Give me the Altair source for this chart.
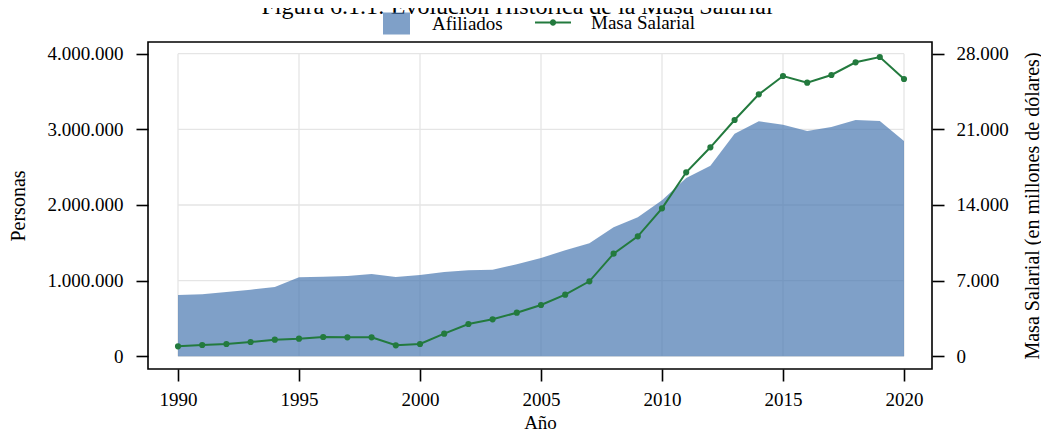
import altair as alt
import pandas as pd

# ---------------- data ----------------
years = [1990, 1991, 1992, 1993, 1994, 1995, 1996, 1997, 1998, 1999,
         2000, 2001, 2002, 2003, 2004, 2005, 2006, 2007, 2008, 2009,
         2010, 2011, 2012, 2013, 2014, 2015, 2016, 2017, 2018, 2019, 2020]
afiliados = [810000, 819000, 850000, 880000, 916000, 1044000, 1052000, 1061000,
             1088000, 1048000, 1075000, 1114000, 1137000, 1145000, 1216000,
             1300000, 1401000, 1494000, 1705000, 1837000, 2062000, 2357000,
             2520000, 2943000, 3106000, 3062000, 2978000, 3031000, 3124000,
             3110000, 2846000]
masa_salarial = [925, 1045, 1138, 1323, 1536, 1629, 1786, 1758, 1758, 1018,
                 1138, 2091, 2989, 3424, 4034, 4747, 5700, 6940, 9494, 11104,
                 13694, 17025, 19338, 21865, 24242, 25936, 25316, 26029, 27203,
                 27694, 25658]
x_ticks = [1990, 1995, 2000, 2005, 2010, 2015, 2020]
left_ticks = [0, 1000000, 2000000, 3000000, 4000000]
right_ticks = [0, 7000, 14000, 21000, 28000]
TITLE = "Figura 6.1.1: Evolución Histórica de la Masa Salarial"

FONT = "Liberation Serif"
AREA_COLOR = "#4877B0"
LINE_COLOR = "#237A3E"
GRID_COLOR = "#E5E5E5"

df = pd.DataFrame({"anio": years, "afiliados": afiliados, "masa": masa_salarial,
                   "s1": "Afiliados", "s2": "Masa Salarial"})
vgrid = pd.DataFrame({"anio": x_ticks, "lo": left_ticks[0], "hi": left_ticks[-1]})
hgrid = pd.DataFrame({"v": left_ticks, "x0": x_ticks[0], "x1": x_ticks[-1]})

x_scale = alt.Scale(domain=[1988.760, 2021.157], nice=False, zero=False)
yl_scale = alt.Scale(domain=[-167880, 4154660], nice=False, zero=False)
yr_scale = alt.Scale(domain=[-1175.2, 29082.6], nice=False, zero=False)

dots = "join(split(format(datum.value, ','), ','), '.')"

x_axis = alt.Axis(values=x_ticks, format="d", title="Año", titleY=59,
                  titleFontSize=19, titleBaseline="alphabetic", labelPadding=9,
                  grid=False, domain=False, orient="bottom")
# top axis of the second layer only carries the figure title
x_axis_top = alt.Axis(orient="top", labels=False, ticks=False, domain=False,
                      grid=False, title=TITLE, titleX=368.5, titleY=-29,
                      titleAlign="center", titleBaseline="alphabetic",
                      titleFontSize=24)
yl_axis = alt.Axis(values=left_ticks, labelExpr=dots, title="Personas",
                   orient="left", titleAngle=270, titleX=-130, titleY=163.5,
                   titleAlign="center", titleBaseline="middle", labelPadding=13,
                   grid=False, domain=False)
yr_axis = alt.Axis(values=right_ticks, labelExpr=dots,
                   title="Masa Salarial (en millones de dólares)",
                   orient="right", titleAngle=270, titleX=100, titleY=163.5,
                   titleAlign="center", titleBaseline="middle", labelPadding=12,
                   grid=False, domain=False)

vg = alt.Chart(vgrid).mark_rule(color=GRID_COLOR, strokeWidth=1.3).encode(
    x=alt.X("anio:Q", scale=x_scale, axis=x_axis),
    y=alt.Y("lo:Q", scale=yl_scale, axis=yl_axis),
    y2="hi:Q",
)
hg = alt.Chart(hgrid).mark_rule(color=GRID_COLOR, strokeWidth=1.3).encode(
    x=alt.X("x0:Q", scale=x_scale, axis=x_axis),
    x2="x1:Q",
    y=alt.Y("v:Q", scale=yl_scale, axis=yl_axis),
)
area = alt.Chart(df).mark_area(opacity=0.7).encode(
    x=alt.X("anio:Q", scale=x_scale, axis=x_axis),
    y=alt.Y("afiliados:Q", scale=yl_scale, axis=yl_axis),
    y2=alt.datum(0),
    fill=alt.Fill("s1:N", scale=alt.Scale(domain=["Afiliados"], range=[AREA_COLOR]),
                  legend=alt.Legend(title=None, orient="none", legendX=235, legendY=-32,
                                    symbolType="M-1,-0.815H1V0.815H-1Z", symbolSize=729,
                                    symbolOpacity=0.7, symbolStrokeWidth=0,
                                    labelOffset=22, padding=0)),
)
line = alt.Chart(df).mark_line(strokeWidth=2).encode(
    x=alt.X("anio:Q", scale=x_scale, axis=x_axis_top),
    y=alt.Y("masa:Q", scale=yr_scale, axis=yr_axis),
    stroke=alt.Stroke("s2:N", scale=alt.Scale(domain=["Masa Salarial"], range=[LINE_COLOR]),
                      legend=alt.Legend(title=None, orient="none", legendX=386, legendY=-38.5,
                                        symbolType="M-1,0H1M0.12,0A0.12,0.12,0,1,1,-0.12,0A0.12,0.12,0,1,1,0.12,0Z",
                                        symbolSize=1296, symbolStrokeWidth=2,
                                        symbolFillColor=LINE_COLOR,
                                        labelOffset=19, padding=0)),
)
pts = alt.Chart(df).mark_circle(size=38, opacity=1, color=LINE_COLOR).encode(
    x=alt.X("anio:Q", scale=x_scale, axis=x_axis_top),
    y=alt.Y("masa:Q", scale=yr_scale, axis=yr_axis),
)

left = alt.layer(vg, hg, area)
right = alt.layer(line, pts)

chart = alt.layer(left, right).resolve_scale(
    x="independent", y="independent"
).properties(
    width=784, height=327,
    autosize=alt.AutoSizeParams(type="none"),
    padding={"left": 140, "top": 34, "right": 109, "bottom": 63},
    background="white",
).configure_view(
    stroke="black", strokeWidth=1.6
).configure_axis(
    tickColor="black", tickWidth=1.6, tickSize=12,
    labelFont=FONT, labelFontSize=19, labelColor="black",
    titleFont=FONT, titleFontSize=20, titleFontWeight="normal", titleColor="black",
).configure_legend(
    labelFont=FONT, labelFontSize=19, labelColor="black",
)

chart.save("out.html", embed_options={"renderer": "svg", "actions": False})
